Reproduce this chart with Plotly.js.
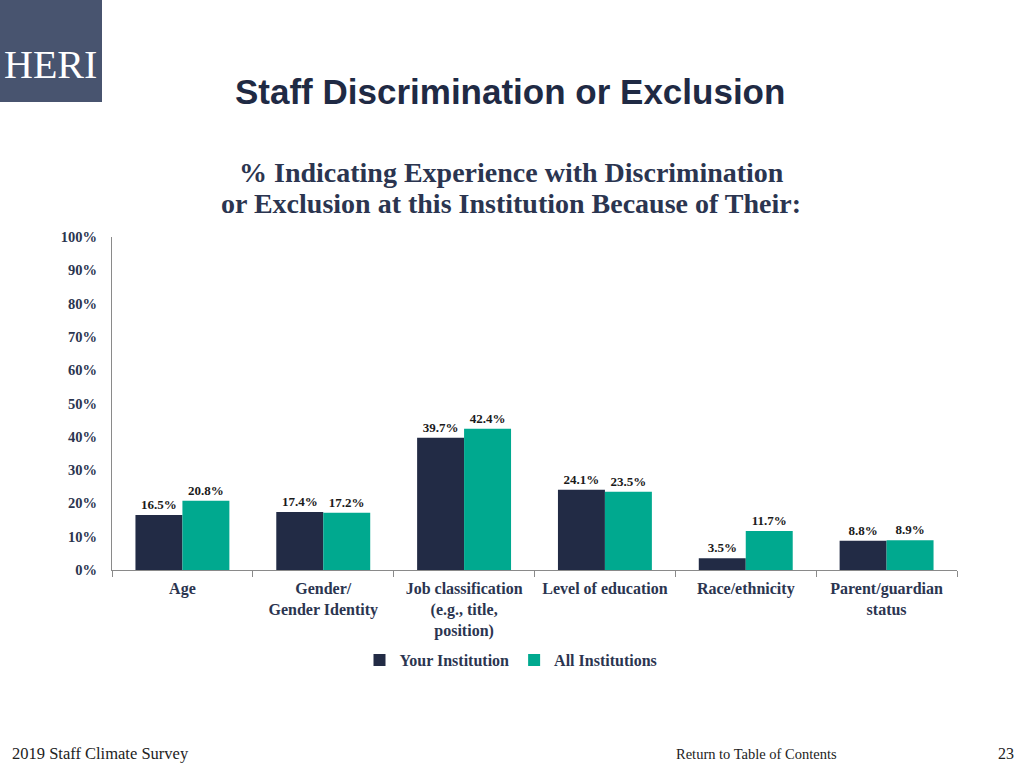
<!DOCTYPE html>
<html>
<head>
<meta charset="utf-8">
<script src="https://cdn.plot.ly/plotly-3.0.1.min.js"></script>
<style>html,body{margin:0;padding:0;background:#fff;}#chart{width:1024px;height:768px;}</style>
</head>
<body>
<div id="chart"></div>
<script>
const categories = ["Age", "Gender/<br>Gender Identity", "Job classification<br>(e.g., title,<br>position)", "Level of education", "Race/ethnicity", "Parent/guardian<br>status"];
const yourInstitution = [0.165, 0.174, 0.397, 0.241, 0.035, 0.088];
const allInstitutions = [0.208, 0.172, 0.424, 0.235, 0.117, 0.089];
const seriesNames = ["Your Institution", "All Institutions"];

const L = 112, R = 957, T = 237, B = 570;
const px = x => (x - L) / (R - L);
const py = y => (B - y) / (B - T);

const serif = "Liberation Serif, Times New Roman, serif";
const navy = "#222B45";
const teal = "#00A98F";
const textCol = "#2B3550";

const labelFont = {family: serif, size: 13, color: "#1a1a1a", weight: "bold"};

const traces = [
  {type: "bar", name: seriesNames[0], x: categories, y: yourInstitution,
   marker: {color: navy}, text: yourInstitution.map(v => (v*100).toFixed(1) + "%"),
   textposition: "outside", textfont: labelFont, cliponaxis: false, hoverinfo: "skip"},
  {type: "bar", name: seriesNames[1], x: categories, y: allInstitutions,
   marker: {color: teal}, text: allInstitutions.map(v => (v*100).toFixed(1) + "%"),
   textposition: "outside", textfont: labelFont, cliponaxis: false, hoverinfo: "skip"}
];

const layout = {
  width: 1024, height: 768,
  margin: {l: L, r: 1024 - R, t: T, b: 768 - B, pad: 0},
  paper_bgcolor: "#fff", plot_bgcolor: "#fff",
  barmode: "group", bargap: 0.333, bargroupgap: 0,
  showlegend: true,
  legend: {orientation: "h", x: px(511), xanchor: "center", y: py(660), yanchor: "middle",
           font: {family: serif, size: 16, color: textCol, weight: "bold"},
           itemwidth: 30, traceorder: "normal"},
  xaxis: {showline: true, linecolor: "#8a8a8a", linewidth: 1, ticks: "outside", tickson: "boundaries",
          ticklen: 6, tickcolor: "#8a8a8a", showgrid: false, ticklabelstandoff: 4,
          tickfont: {family: serif, size: 16, color: textCol, weight: "bold"}},
  yaxis: {range: [0, 1], dtick: 0.1, tickformat: ".0%", showline: true, linecolor: "#8a8a8a",
          linewidth: 1, showgrid: false, zeroline: false, ticks: "", ticklabelstandoff: 11,
          tickfont: {family: serif, size: 14.5, color: textCol, weight: "bold"}},
  shapes: [
    {type: "rect", xref: "paper", yref: "paper", x0: px(0), x1: px(102), y0: py(102), y1: py(0),
     fillcolor: "#48546F", line: {width: 0}, layer: "above"}
  ],
  annotations: [
    {xref: "paper", yref: "paper", x: px(51), y: py(64), xanchor: "center", yanchor: "middle",
     text: "HERI", showarrow: false, font: {family: serif, size: 40, color: "#ffffff"}},
    {xref: "paper", yref: "paper", x: px(510), y: py(92), xanchor: "center", yanchor: "middle",
     text: "Staff Discrimination or Exclusion", showarrow: false,
     font: {family: "Liberation Sans, Arial, sans-serif", size: 35, color: "#1F2A44", weight: "bold"}},
    {xref: "paper", yref: "paper", x: px(511), y: py(172), xanchor: "center", yanchor: "middle",
     text: "% Indicating Experience with Discrimination",
     showarrow: false, font: {family: serif, size: 28, color: textCol, weight: "bold"}},
    {xref: "paper", yref: "paper", x: px(511), y: py(203), xanchor: "center", yanchor: "middle",
     text: "or Exclusion at this Institution Because of Their:",
     showarrow: false, font: {family: serif, size: 28, color: textCol, weight: "bold"}},
    {xref: "paper", yref: "paper", x: px(10), y: py(753), xanchor: "left", yanchor: "middle",
     text: "2019 Staff Climate Survey", showarrow: false, font: {family: serif, size: 16.5, color: "#222"}},
    {xref: "paper", yref: "paper", x: px(756), y: py(754), xanchor: "center", yanchor: "middle",
     text: "Return to Table of Contents", showarrow: false, font: {family: serif, size: 14.5, color: "#222"}},
    {xref: "paper", yref: "paper", x: px(1016), y: py(753), xanchor: "right", yanchor: "middle",
     text: "23", showarrow: false, font: {family: serif, size: 16, color: "#222"}}
  ]
};

Plotly.newPlot("chart", traces, layout, {staticPlot: true, displayModeBar: false});
</script>
</body>
</html>
